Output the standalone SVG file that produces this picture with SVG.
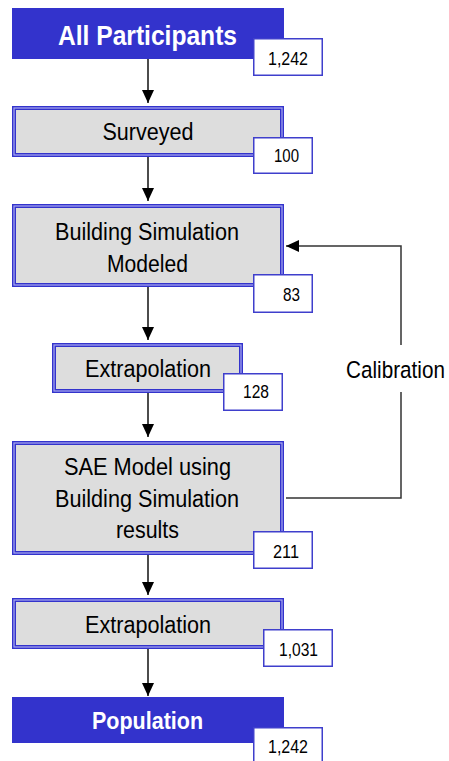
<svg xmlns="http://www.w3.org/2000/svg" width="449" height="761" viewBox="0 0 449 761">
<defs>
<style>
.term{fill:#3333CC;}
.proc{fill:#DDDDDD;stroke:#3333CC;stroke-width:4;}
.proc-in{fill:none;stroke:#AAAAEE;stroke-width:1.2;}
.num{fill:#FFFFFF;stroke:#3F3FCC;stroke-width:1.5;}
.t{font-family:"Liberation Sans",Arial,sans-serif;fill:#000000;text-anchor:middle;}
.big{font-size:23.5px;}
.tt{font-family:"Liberation Sans",Arial,sans-serif;font-weight:bold;fill:#FFFFFF;text-anchor:middle;}
.n{font-family:"Liberation Sans",Arial,sans-serif;font-size:18px;fill:#000000;text-anchor:middle;}
.conn{stroke:#111111;stroke-width:1.5;fill:none;}
.cal{stroke:#333333;stroke-width:1.5;fill:none;}
</style>
<marker id="ah" markerUnits="userSpaceOnUse" markerWidth="14" markerHeight="14" viewBox="0 0 14 14" refX="13" refY="7" orient="auto">
<path d="M0,1 L13,7 L0,13 Z" fill="#000000"/>
</marker>
</defs>

<g id="connectors">
<line class="conn" x1="148" y1="59" x2="148" y2="103" marker-end="url(#ah)"/>
<line class="conn" x1="148" y1="157" x2="148" y2="201" marker-end="url(#ah)"/>
<line class="conn" x1="148" y1="287" x2="148" y2="340" marker-end="url(#ah)"/>
<line class="conn" x1="148" y1="393" x2="148" y2="437" marker-end="url(#ah)"/>
<line class="conn" x1="148" y1="555" x2="148" y2="595" marker-end="url(#ah)"/>
<line class="conn" x1="148" y1="649" x2="148" y2="696" marker-end="url(#ah)"/>
<polyline class="cal" points="286,498 401,498 401,392"/>
<polyline class="cal" points="401,345 401,246 286,246" marker-end="url(#ah)"/>
<text id="calibration-label" class="t big" transform="translate(395.5,378) scale(0.88,1)" x="0" y="0">Calibration</text>
</g>

<g id="all-participants">
<rect class="term" x="12" y="8" width="272" height="51"/>
<text class="tt" x="147.5" y="45" font-size="27" textLength="179" lengthAdjust="spacingAndGlyphs">All Participants</text>
<rect class="num" x="253.75" y="38.75" width="68.5" height="36.5"/>
<text class="n" x="288" y="65" textLength="40" lengthAdjust="spacingAndGlyphs">1,242</text>
</g>

<g id="surveyed">
<rect class="proc" x="14" y="108" width="268" height="47"/>
<rect class="proc-in" x="14" y="108" width="268" height="47"/>
<text class="t big" x="148" y="140" textLength="91" lengthAdjust="spacingAndGlyphs">Surveyed</text>
<rect class="num" x="253.75" y="137.75" width="58.5" height="35.5"/>
<text class="n" x="286.5" y="162" textLength="25" lengthAdjust="spacingAndGlyphs">100</text>
</g>

<g id="building-simulation">
<rect class="proc" x="14" y="206" width="268" height="79"/>
<rect class="proc-in" x="14" y="206" width="268" height="79"/>
<text class="t big" x="147" y="240" textLength="184" lengthAdjust="spacingAndGlyphs">Building Simulation</text>
<text class="t big" x="147.5" y="272" textLength="81" lengthAdjust="spacingAndGlyphs">Modeled</text>
<rect class="num" x="253.75" y="274.75" width="58.5" height="37.5"/>
<text class="n" x="291.5" y="301" textLength="17" lengthAdjust="spacingAndGlyphs">83</text>
</g>

<g id="extrapolation-1">
<rect class="proc" x="54" y="345" width="187" height="46"/>
<rect class="proc-in" x="54" y="345" width="187" height="46"/>
<text class="t big" x="148" y="377" textLength="126" lengthAdjust="spacingAndGlyphs">Extrapolation</text>
<rect class="num" x="223.75" y="373.75" width="58.5" height="36.5"/>
<text class="n" x="256" y="398" textLength="26" lengthAdjust="spacingAndGlyphs">128</text>
</g>

<g id="sae-model">
<rect class="proc" x="14" y="443" width="268" height="110"/>
<rect class="proc-in" x="14" y="443" width="268" height="110"/>
<text class="t big" x="147.5" y="475" textLength="167" lengthAdjust="spacingAndGlyphs">SAE Model using</text>
<text class="t big" x="147" y="507" textLength="184" lengthAdjust="spacingAndGlyphs">Building Simulation</text>
<text class="t big" x="147.5" y="538" textLength="63" lengthAdjust="spacingAndGlyphs">results</text>
<rect class="num" x="253.75" y="531.75" width="58.5" height="36.5"/>
<text class="n" x="286" y="558" textLength="26" lengthAdjust="spacingAndGlyphs">211</text>
</g>

<g id="extrapolation-2">
<rect class="proc" x="14" y="600" width="268" height="47"/>
<rect class="proc-in" x="14" y="600" width="268" height="47"/>
<text class="t big" x="148" y="633" textLength="126" lengthAdjust="spacingAndGlyphs">Extrapolation</text>
<rect class="num" x="263.75" y="629.75" width="68.5" height="36.5"/>
<text class="n" x="298.5" y="656" textLength="39" lengthAdjust="spacingAndGlyphs">1,031</text>
</g>

<g id="population">
<rect class="term" x="12" y="697" width="272" height="46"/>
<text class="tt" x="147.5" y="729" font-size="24" textLength="111" lengthAdjust="spacingAndGlyphs">Population</text>
<rect class="num" x="253.75" y="727.75" width="68.5" height="40"/>
<text class="n" x="288" y="753" textLength="40" lengthAdjust="spacingAndGlyphs">1,242</text>
</g>
</svg>
